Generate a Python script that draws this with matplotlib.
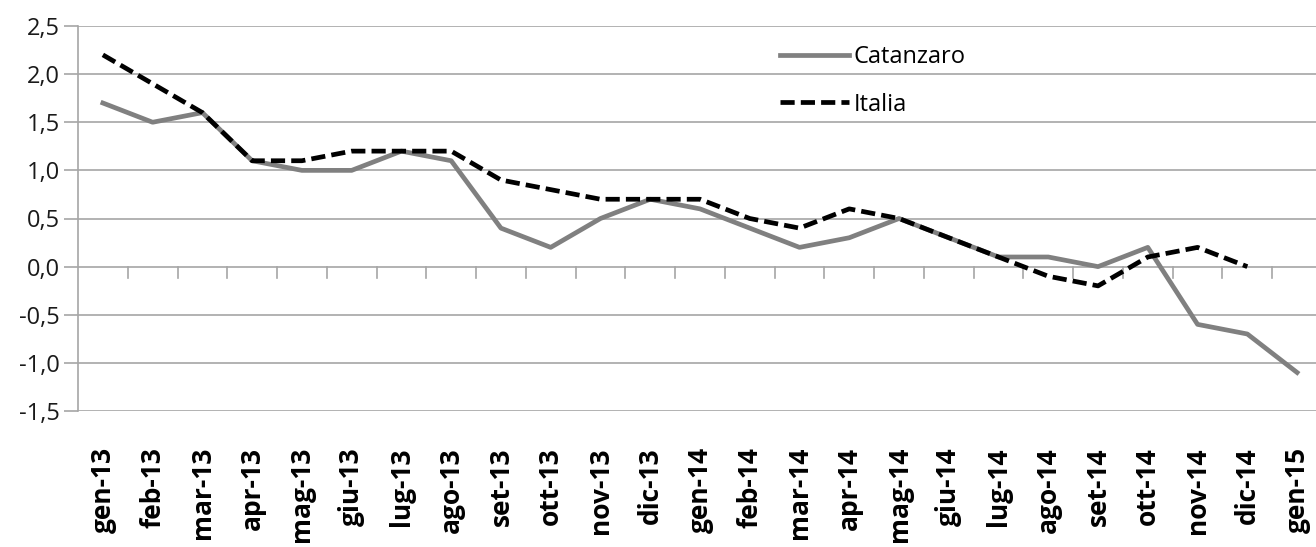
import matplotlib.pyplot as plt
import numpy as np

mesi = ['gen-13', 'feb-13', 'mar-13', 'apr-13', 'mag-13', 'giu-13', 'lug-13', 'ago-13',
        'set-13', 'ott-13', 'nov-13', 'dic-13', 'gen-14', 'feb-14', 'mar-14', 'apr-14',
        'mag-14', 'giu-14', 'lug-14', 'ago-14', 'set-14', 'ott-14', 'nov-14', 'dic-14',
        'gen-15']
catanzaro = [1.7, 1.5, 1.6, 1.1, 1.0, 1.0, 1.2, 1.1, 0.4, 0.2, 0.5, 0.7, 0.6, 0.4,
             0.2, 0.3, 0.5, 0.3, 0.1, 0.1, 0.0, 0.2, -0.6, -0.7, -1.1]
italia = [2.2, 1.9, 1.6, 1.1, 1.1, 1.2, 1.2, 1.2, 0.9, 0.8, 0.7, 0.7, 0.7, 0.5,
          0.4, 0.6, 0.5, 0.3, 0.1, -0.1, -0.2, 0.1, 0.2, 0.0, np.nan]
yticks = [2.5, 2.0, 1.5, 1.0, 0.5, 0.0, -0.5, -1.0, -1.5]

plt.rcParams['font.family'] = ['Open Sans', 'DejaVu Sans']

fig = plt.figure(figsize=(13.16, 5.47), dpi=100)
ax = fig.add_axes([78 / 1316, 1 - 411 / 547, 1 - 78 / 1316, (411 - 26) / 547])

x = np.arange(len(mesi))
grid_col = '#a6a6a6'

for v in yticks:
    ax.axhline(v, color=grid_col, lw=1.2, zorder=1)

# tacche sull'asse dello zero
for b in x[:-1] + 0.5:
    ax.plot([b, b], [0, -0.115], color=grid_col, lw=1.2, zorder=1, clip_on=False)

ax.plot(x, catanzaro, color='#808080', lw=3.4, solid_joinstyle='round', label='Catanzaro', zorder=3)
ax.plot(x, italia, color='black', lw=3.4, dashes=(3, 1.3), label='Italia', zorder=4)

ax.set_xlim(-0.5, 24.38)
ax.set_ylim(-1.5, 2.5)
ax.set_yticks(yticks)
ax.set_yticklabels([f'{v:.1f}'.replace('.', ',') for v in yticks], fontsize=17, color='#1a1a1a')
ax.tick_params(axis='y', length=10, width=1.2, color=grid_col, pad=3)

ax.set_xticks(x)
ax.set_xticklabels(mesi, rotation=90, fontsize=19, fontweight='bold')
ax.tick_params(axis='x', length=0, pad=26)

for s in ['top', 'right', 'bottom']:
    ax.spines[s].set_visible(False)
ax.spines['left'].set_color(grid_col)
ax.spines['left'].set_linewidth(1.2)

leg = ax.legend(loc='upper left', bbox_to_anchor=(0.5595, 0.974), frameon=False, fontsize=17,
                handlelength=2.9, handletextpad=0.2, labelspacing=0.98, borderaxespad=0)

fig.savefig('out.png', dpi=100)
